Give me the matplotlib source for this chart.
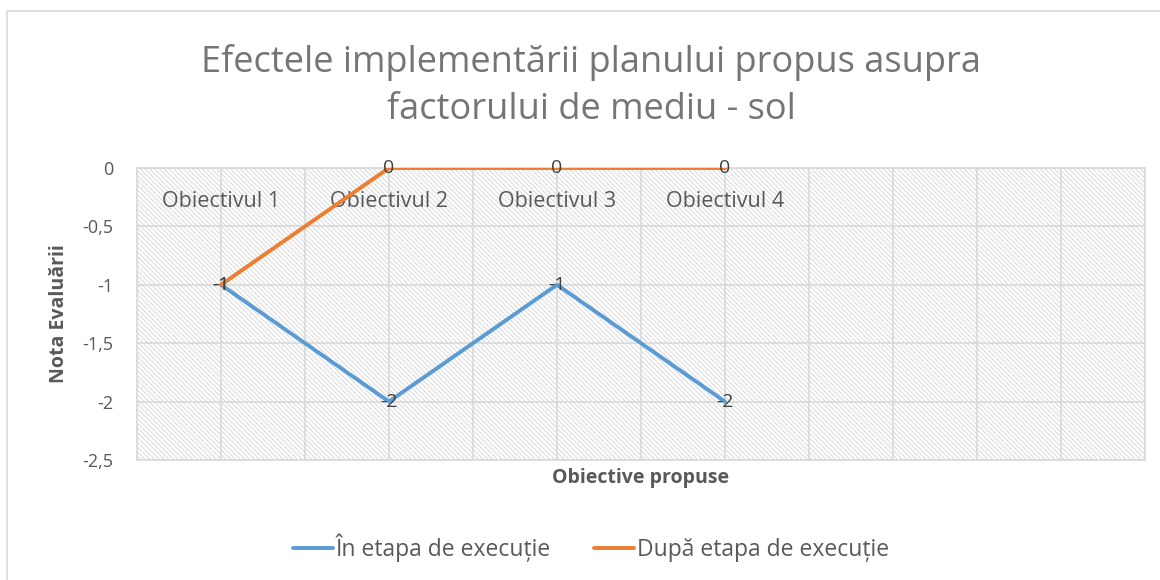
import numpy as np
import matplotlib
matplotlib.use("Agg")
from matplotlib import pyplot as plt
from matplotlib.patches import Rectangle

# data
categories = ["Obiectivul 1", "Obiectivul 2", "Obiectivul 3", "Obiectivul 4"]
n_slots = 6  # the category axis has two empty slots at the end
in_executie = [-1, -2, -1, -2]
dupa_executie = [-1, 0, 0, 0]
series_names = ["În etapa de execuție", "După etapa de execuție"]
y_ticks = [0, -0.5, -1, -1.5, -2, -2.5]
y_tick_labels = ["0", "-0,5", "-1", "-1,5", "-2", "-2,5"]

plt.rcParams['font.family'] = ['Open Sans', 'DejaVu Sans']
plt.rcParams['hatch.linewidth'] = 0.7

W, H = 1160, 580
fig = plt.figure(figsize=(W / 100, H / 100), dpi=100)

# outer chart frame (runs off the right/bottom edge of the picture)
fig.patches.append(Rectangle((7 / W, -0.05), 1.1, 1 - 11 / H + 0.05,
                             transform=fig.transFigure, fill=False,
                             edgecolor='#d9d9d9', linewidth=1.2))

ax = fig.add_axes([137 / W, 1 - 460 / H, (1145 - 137) / W, (460 - 168) / H])

# hatched plot area
ax.add_patch(Rectangle((0, 0), 1, 1, transform=ax.transAxes, facecolor='white',
                       edgecolor='#d9d9d9', hatch='\\' * 7, linewidth=0, zorder=0))

x = np.arange(len(categories))
blue, orange = '#5b9bd5', '#ed7d31'
ax.plot(x, in_executie, color=blue, lw=2.8, solid_capstyle='round', zorder=3,
        label=series_names[0])
ax.plot(x, dupa_executie, color=orange, lw=2.8, solid_capstyle='round', zorder=3,
        label=series_names[1])

# data labels centred on the points
for xs, ys in [(x, in_executie), (x, dupa_executie)]:
    for xi, yi in zip(xs, ys):
        ax.text(xi, yi, f"{yi:g}".replace('.', ','), ha='center', va='center',
                fontsize=14, color='#404040', zorder=4)

ax.set_xlim(-0.5, n_slots - 0.5)
ax.set_ylim(-2.5, 0)

# category labels sit just under the 0 line, inside the plot
ax.set_xticks(np.arange(n_slots))
ax.set_xticklabels(categories + [""] * (n_slots - len(categories)))
ax.set_xticks(np.arange(-0.5, n_slots, 1.0), minor=True)
ax.xaxis.set_ticks_position('top')
ax.tick_params(axis='x', which='both', length=0, labeltop=True, labelbottom=False,
               pad=-32, labelsize=15.5, labelcolor='#595959')

ax.set_yticks(y_ticks)
ax.set_yticklabels(y_tick_labels)
ax.tick_params(axis='y', length=0, pad=17, labelsize=13, labelcolor='#595959')

ax.grid(True, which='both', color='#d9d9d9', lw=1.2, zorder=1)
ax.set_axisbelow(True)
for s in ax.spines.values():
    s.set_color('#d9d9d9')
    s.set_linewidth(1.2)

ax.set_ylabel("Nota Evaluării", fontsize=14, fontweight='bold', color='#595959',
              labelpad=10)
ax.set_xlabel("Obiective propuse", fontsize=14, fontweight='bold', color='#595959',
              labelpad=6)

fig.suptitle("Efectele implementării planului propus asupra\nfactorului de mediu - sol",
             x=591 / W, y=1 - 44 / H, va='top', fontsize=26,
             color='#757575', linespacing=1.42)

ax.legend(loc='center', bbox_to_anchor=(591 / W, 1 - 548 / H), bbox_transform=fig.transFigure,
          ncol=2, frameon=False, fontsize=16.5, labelcolor='#595959', handlelength=1.75,
          handletextpad=0.1, columnspacing=1.9)

fig.savefig("out.png", dpi=100)
